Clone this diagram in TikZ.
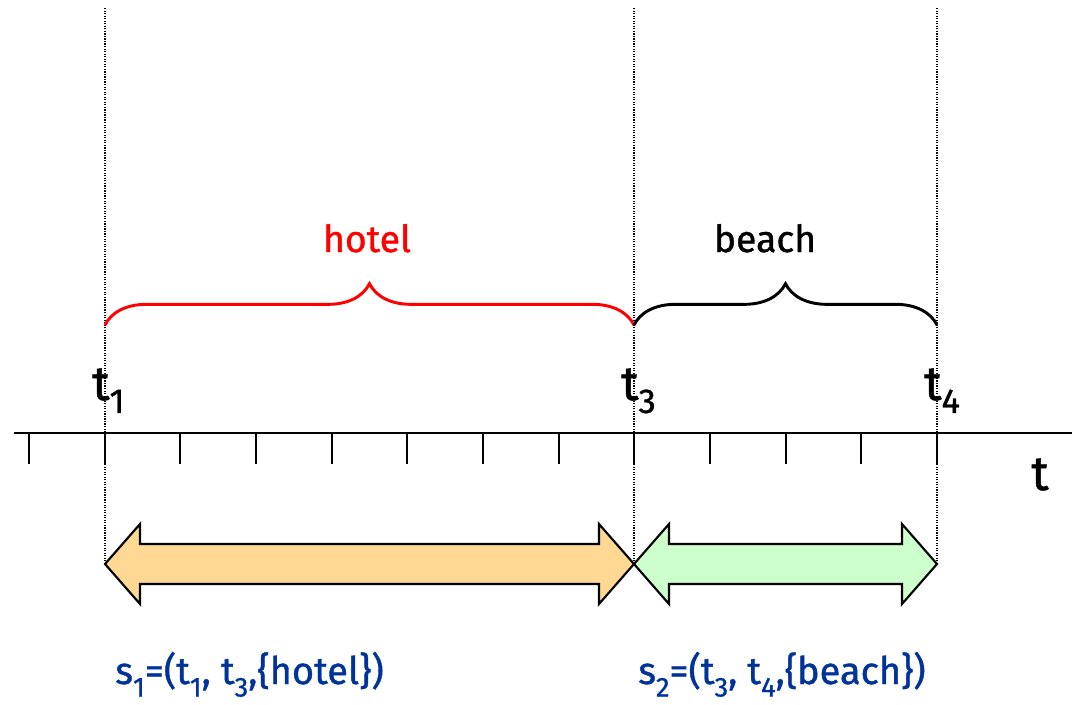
\documentclass[tikz,border=0pt]{standalone}
\usepackage{fontspec}
\setmainfont{Fira Sans}[FakeBold=1]
\usetikzlibrary{decorations.pathreplacing}
\definecolor{hotelfill}{RGB}{255,217,147}
\definecolor{beachfill}{RGB}{204,255,204}
\definecolor{setblue}{RGB}{0,51,153}
% lowered index digit
\newcommand{\dn}[2][0.3em]{\raisebox{-#1}{\scalebox{0.72}{#2}}}

\begin{document}
\begin{tikzpicture}[x=0.75pt,y=-0.75pt,
  every node/.style={inner sep=0pt},
  guide/.style={densely dotted, line width=0.9pt},
  span/.style={decorate, decoration={brace, amplitude=31pt}, line width=2.2pt},
  interval/.style={draw=black, line width=1.6pt, line join=miter}]
\useasboundingbox (0,0) rectangle (1072,704);
% instants
\coordinate (t1) at (105,433);
\coordinate (t3) at (634,433);
\coordinate (t4) at (937,433);
\foreach \p in {t1,t3,t4}
  \draw[guide] (\p) ++(0,-425) -- ++(0,556);
% time axis
\draw[line width=2.2pt] (14,433) -- (1072,433);
\foreach \i in {0,...,12}
  \draw[line width=1.5pt] (29+75.67*\i,433) -- ++(0,31);
\node[anchor=base] (tt) at (1040,490) {\fontsize{36}{36}\selectfont t};
\node[anchor=base west] (lt1) at (92,400) {\fontsize{36}{36}\selectfont t\dn[0.27em]{1}};
\node[anchor=base west] (lt3) at (621,400) {\fontsize{36}{36}\selectfont t\dn[0.27em]{3}};
\node[anchor=base west] (lt4) at (924,400) {\fontsize{36}{36}\selectfont t\dn[0.27em]{4}};
% braces
\draw[span, red] (105,325) -- (634,325);
\draw[span] (634,325) -- (937,325);
\node[anchor=base, red] (hotel) at (367,252) {\fontsize{28}{28}\selectfont hotel};
\node[anchor=base] (beach) at (765,252) {\fontsize{28}{28}\selectfont beach};
% intervals
\foreach \a/\b/\c in {105/634/hotelfill, 634/937/beachfill}
  \filldraw[interval, fill=\c] (\a,564) -- (\a+35,524) -- (\a+35,544) -- (\b-35,544)
    -- (\b-35,524) -- (\b,564) -- (\b-35,604) -- (\b-35,584) -- (\a+35,584)
    -- (\a+35,604) -- cycle;
\node[anchor=base west, setblue] (s1) at (115,684)
  {\fontsize{28.5}{28.5}\selectfont s\dn[0.33em]{1}=(t\dn[0.33em]{1}, t\dn[0.33em]{3},\{hotel\})};
\node[anchor=base west, setblue] (s2) at (638,684)
  {\fontsize{28.5}{28.5}\selectfont s\dn[0.33em]{2}=(t\dn[0.33em]{3}, t\dn[0.33em]{4},\{beach\})};
\end{tikzpicture}
\end{document}
